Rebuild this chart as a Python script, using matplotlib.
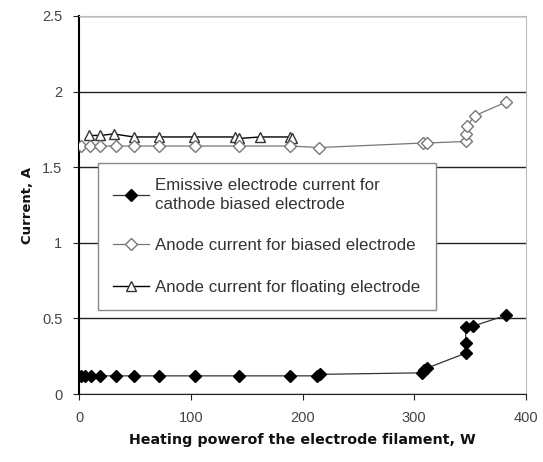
import matplotlib
matplotlib.use("Agg")
import matplotlib.pyplot as plt

plt.rcParams['font.family'] = ['Liberation Sans', 'DejaVu Sans']

# Emissive electrode current (cathode biased electrode)
em_x = [2, 5, 11, 19, 33, 49, 72, 104, 143, 189, 213, 216, 307, 309, 311, 346, 346, 346, 353, 382]
em_y = [0.12, 0.12, 0.12, 0.12, 0.12, 0.12, 0.12, 0.12, 0.12, 0.12, 0.12, 0.13, 0.14, 0.16, 0.17, 0.27, 0.34, 0.44, 0.45, 0.52]

# Anode current for biased electrode
an_x = [2, 10, 19, 33, 49, 72, 104, 143, 189, 215, 308, 311, 346, 346, 347, 354, 382]
an_y = [1.64, 1.64, 1.64, 1.64, 1.64, 1.64, 1.64, 1.64, 1.64, 1.63, 1.66, 1.66, 1.67, 1.72, 1.77, 1.84, 1.93]

# Anode current for floating electrode
fl_x = [9, 19, 31, 49, 72, 103, 140, 143, 162, 189, 191]
fl_y = [1.71, 1.71, 1.72, 1.70, 1.70, 1.70, 1.70, 1.69, 1.70, 1.70, 1.69]

fig = plt.figure(figsize=(5.43, 4.62), dpi=100)
ax = fig.add_axes([79/543, 1-394/462, 447/543, 378/462])

ax.plot(em_x, em_y, color='#333333', lw=0.9, marker='D', ms=6, mfc='black', mec='black',
        label='Emissive electrode current for\ncathode biased electrode', zorder=3)
ax.plot(an_x, an_y, color='#777777', lw=0.9, marker='D', ms=6, mfc='white', mec='#777777',
        label='Anode current for biased electrode', zorder=3)
ax.plot(fl_x, fl_y, color='black', lw=1.0, marker='^', ms=7, mfc='white', mec='#333333',
        label='Anode current for floating electrode', zorder=2)

ax.set_xlim(0, 400)
ax.set_ylim(0, 2.5)
ax.set_xticks([0, 100, 200, 300, 400])
ax.set_yticks([0, 0.5, 1, 1.5, 2, 2.5])
ax.set_yticklabels(['0', '0.5', '1', '1.5', '2', '2.5'])
ax.yaxis.grid(True, color='#222222', lw=1.0)
ax.set_axisbelow(True)

for s in ['top', 'right']:
    ax.spines[s].set_color('#bbbbbb')
ax.spines['left'].set_color('black')
ax.spines['left'].set_linewidth(1.5)
ax.spines['bottom'].set_color('#222222')
ax.tick_params(axis='both', direction='out', length=4, colors='#222222',
               labelcolor='#444444', labelsize=10.5, pad=8)

ax.set_xlabel('Heating powerof the electrode filament, W', fontsize=10.3,
              fontweight='bold', family=['DejaVu Sans'], labelpad=6, color='#111111')
ax.set_ylabel('Current, A', fontsize=9.5, fontweight='bold', family=['DejaVu Sans'],
              labelpad=6, color='#111111')

leg = ax.legend(loc='upper left', bbox_to_anchor=(0.042, 0.612), fontsize=12.2,
                frameon=True, fancybox=False, edgecolor='#888888', framealpha=1,
                labelspacing=1.55, handlelength=2.1, borderpad=0.9, handletextpad=0.4,
                borderaxespad=0)
leg.get_frame().set_linewidth(1.0)
leg.get_texts()[0].set_linespacing(1.35)
for t in leg.get_texts():
    t.set_color('#333333')

fig.savefig('out.png', dpi=100)
